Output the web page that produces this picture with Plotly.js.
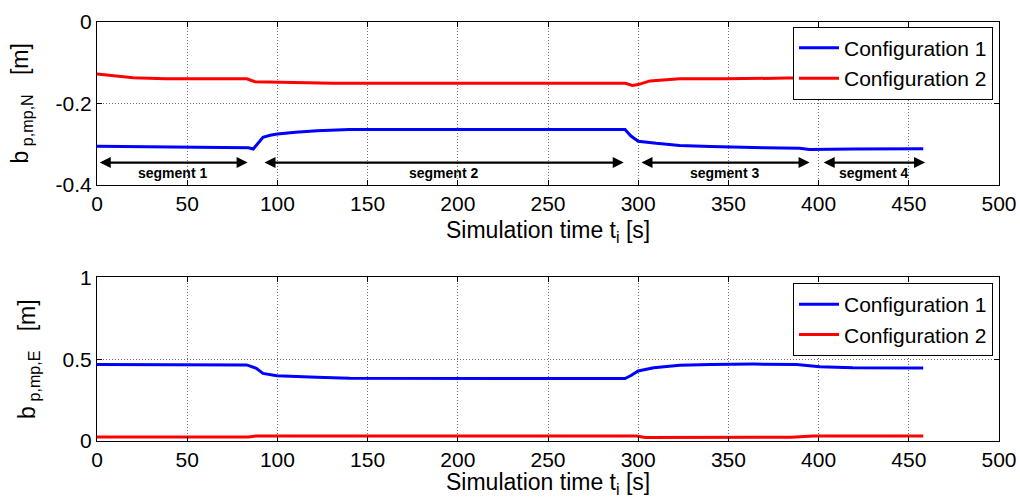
<!DOCTYPE html>
<html><head><meta charset="utf-8">
<script src="https://cdn.plot.ly/plotly-3.0.1.min.js"></script>
<style>html,body{margin:0;padding:0;background:#fff}</style>
</head><body><div id="chart" style="width:1020px;height:497px"></div>
<script>
// Top panel: b_p,mp,N
const tN1 = [0, 20, 50, 84, 86.6, 89, 92, 96, 100, 110, 122, 140, 200, 250, 292.7, 296, 300, 310, 323, 340, 354, 370, 389.5, 395, 419, 458];
const bN1 = [-0.305, -0.306, -0.308, -0.309, -0.312, -0.298, -0.283, -0.278, -0.275, -0.271, -0.267, -0.264, -0.264, -0.264, -0.264, -0.280, -0.293, -0.298, -0.303, -0.306, -0.308, -0.309, -0.310, -0.313, -0.312, -0.311];
const tN2 = [0, 10, 20, 38, 83, 87.6, 100, 112, 131, 200, 293, 296.7, 300, 306.5, 315, 323, 348, 383, 420, 458];
const bN2 = [-0.128, -0.133, -0.137, -0.140, -0.140, -0.147, -0.148, -0.149, -0.151, -0.151, -0.151, -0.156, -0.154, -0.145, -0.142, -0.140, -0.140, -0.138, -0.138, -0.138];
// Bottom panel: b_p,mp,E
const tE1 = [0, 83, 88.3, 92, 99.6, 110, 121.8, 140, 200, 292.7, 296, 300, 308.6, 323, 340, 363.8, 387.8, 400.7, 419, 458];
const bE1 = [0.467, 0.465, 0.444, 0.413, 0.399, 0.393, 0.389, 0.383, 0.382, 0.382, 0.400, 0.428, 0.448, 0.462, 0.467, 0.470, 0.468, 0.454, 0.448, 0.446];
const tE2 = [0, 84, 88, 200, 299, 304, 340, 385, 397, 458];
const bE2 = [0.025, 0.025, 0.031, 0.031, 0.031, 0.021, 0.022, 0.023, 0.031, 0.031];
// Segments
const segStart = [0.7, 92, 301, 402];
const segEnd = [83.5, 292, 395, 459];
const segLabels = ['segment 1', 'segment 2', 'segment 3', 'segment 4'];
const seriesNames = ['Configuration 1', 'Configuration 2'];
// Ticks
const xTicks = [0, 50, 100, 150, 200, 250, 300, 350, 400, 450, 500];
const xTickText = ['0', '50', '100', '150', '200', '250', '300', '350', '400', '450', '500'];
const yTicksN = [-0.4, -0.2, 0];
const yTickTextN = ['-0.4', '-0.2', '0'];
const yTicksE = [0, 0.5, 1];
const yTickTextE = ['0', '0.5', '1'];
const yTitleN = 'b&#8201;<sub>p,mp,N</sub>&nbsp;&nbsp;&nbsp;[m]';
const yTitleE = 'b&#8201;<sub>p,mp,E</sub>&nbsp;&nbsp;&nbsp;[m]';
const xTitle = 'Simulation time t<sub>i</sub> [s]';

const FONT = 'Liberation Sans, Arial, Helvetica, sans-serif';
const blue = '#0000ff', red = '#ff0000';

const traces = [
  {x: tN1, y: bN1, name: seriesNames[0], xaxis: 'x', yaxis: 'y', legend: 'legend', mode: 'lines', line: {color: blue, width: 3}},
  {x: tN2, y: bN2, name: seriesNames[1], xaxis: 'x', yaxis: 'y', legend: 'legend', mode: 'lines', line: {color: red, width: 3}},
  {x: tE1, y: bE1, name: seriesNames[0], xaxis: 'x2', yaxis: 'y2', legend: 'legend2', mode: 'lines', line: {color: blue, width: 3}},
  {x: tE2, y: bE2, name: seriesNames[1], xaxis: 'x2', yaxis: 'y2', legend: 'legend2', mode: 'lines', line: {color: red, width: 3}}
];

const W = 1020, H = 497;
const xdom = [97 / W, 999 / W];
const common = {
  showgrid: true, gridcolor: '#707070', griddash: '1px,2px', gridwidth: 1,
  showline: true, linecolor: '#000', linewidth: 1, mirror: 'ticks',
  ticks: 'inside', ticklen: 5, tickcolor: '#000', zeroline: false,
  tickfont: {size: 21, color: '#000'}, automargin: false, fixedrange: true,
  tickmode: 'array'
};
const xCommon = Object.assign({}, common, {range: [0, 500], tickvals: xTicks, ticktext: xTickText, domain: xdom});

const annotations = [];
for (let i = 0; i < segLabels.length; i++) {
  annotations.push({xref: 'x', yref: 'y', axref: 'x', ayref: 'y',
    x: segEnd[i], y: -0.345, ax: segStart[i], ay: -0.345, text: '',
    showarrow: true, arrowhead: 2, startarrowhead: 2, arrowside: 'end+start',
    arrowsize: 1, arrowwidth: 2.2, arrowcolor: '#000', standoff: 0, startstandoff: 0});
  annotations.push({xref: 'x', yref: 'y', x: (segStart[i] + segEnd[i]) / 2, y: -0.37,
    text: '<b>' + segLabels[i] + '</b>', showarrow: false, font: {size: 14, color: '#000', family: FONT}});
}
// x-axis titles (one per panel)
[232, 483].forEach(function (py) {
  annotations.push({xref: 'paper', yref: 'paper', x: (xdom[0] + xdom[1]) / 2, y: 1 - py / H,
    xanchor: 'center', yanchor: 'middle', text: xTitle, showarrow: false, borderpad: 0,
    font: {size: 23, color: '#000', family: FONT}});
});

const legendCommon = {x: 993 / W, xanchor: 'right', bordercolor: '#000', borderwidth: 1,
  bgcolor: '#fff', font: {size: 21, color: '#000'}, tracegroupgap: 0, itemwidth: 40};

const layout = {
  width: W, height: H, margin: {l: 0, r: 0, t: 0, b: 0},
  paper_bgcolor: '#fff', plot_bgcolor: '#fff',
  font: {family: FONT, color: '#000'},
  showlegend: true,
  xaxis: Object.assign({}, xCommon, {anchor: 'y'}),
  xaxis2: Object.assign({}, xCommon, {anchor: 'y2'}),
  yaxis: Object.assign({}, common, {anchor: 'x', range: [-0.4, 0], tickvals: yTicksN, ticktext: yTickTextN,
    domain: [1 - 185 / H, 1 - 21.7 / H], title: {text: yTitleN, font: {size: 23, color: '#000'}, standoff: 20}}),
  yaxis2: Object.assign({}, common, {anchor: 'x2', range: [0, 1], tickvals: yTicksE, ticktext: yTickTextE,
    domain: [1 - 441 / H, 1 - 277.3 / H], title: {text: yTitleE, font: {size: 23, color: '#000'}, standoff: 20}}),
  legend: Object.assign({}, legendCommon, {y: 1 - 26.7 / H, yanchor: 'top'}),
  legend2: Object.assign({}, legendCommon, {y: 1 - 283 / H, yanchor: 'top'}),
  annotations: annotations
};

Plotly.newPlot('chart', traces, layout, {staticPlot: true, displayModeBar: false});
</script></body></html>
